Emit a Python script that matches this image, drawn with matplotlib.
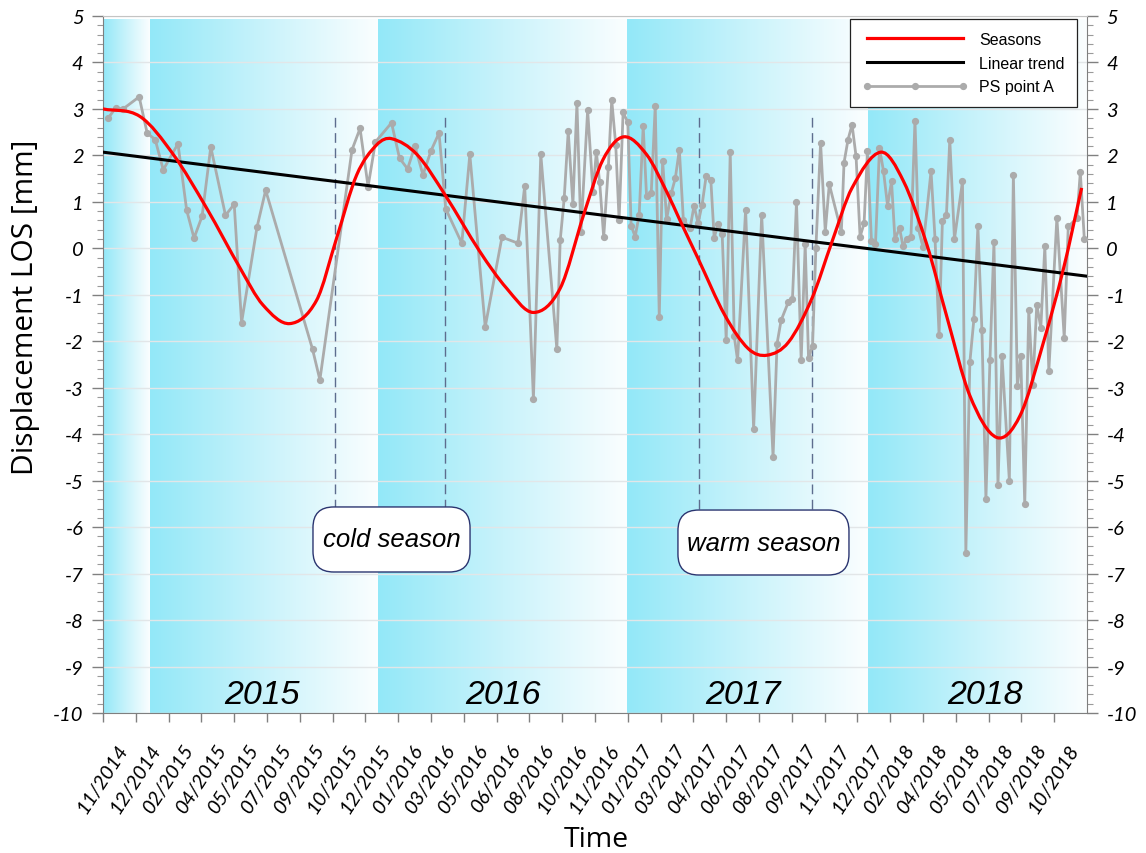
import matplotlib
matplotlib.use("Agg")
import matplotlib.pyplot as plt
import numpy as np
from matplotlib.colors import LinearSegmentedColormap
from matplotlib.patches import FancyBboxPatch, PathPatch
from matplotlib.path import Path
from matplotlib.lines import Line2D

plt.rcParams['axes.unicode_minus'] = False

# x axis: days counted from the first tick (11/2014), ticks every 49 days
tick_step = 49
tick_labels = ['11/2014', '12/2014', '02/2015', '04/2015', '05/2015', '07/2015',
               '09/2015', '10/2015', '12/2015', '01/2016', '03/2016', '05/2016',
               '06/2016', '08/2016', '10/2016', '11/2016', '01/2017', '03/2017',
               '04/2017', '06/2017', '08/2017', '09/2017', '11/2017', '12/2017',
               '02/2018', '04/2018', '05/2018', '07/2018', '09/2018', '10/2018']

# PS point A (days, displacement mm)
ps_days = [8, 19, 30, 54, 66, 78, 90, 112, 125, 136,
           148, 161, 183, 196, 207, 230, 243, 313, 324, 372,
           384, 396, 407, 431, 443, 455, 466, 478, 490, 502,
           512, 536, 548, 571, 596, 620, 630, 643, 654, 678,
           683, 689, 695, 702, 708, 714, 724, 732, 737, 742,
           748, 755, 760, 766, 771, 777, 784, 789, 795, 801,
           807, 812, 819, 825, 831, 836, 842, 849, 855, 861,
           867, 877, 883, 889, 895, 901, 908, 913, 919, 925,
           931, 937, 943, 948, 960, 972, 984, 1001, 1007, 1013,
           1024, 1030, 1036, 1043, 1049, 1054, 1060, 1065, 1072, 1079,
           1085, 1103, 1107, 1113, 1119, 1125, 1131, 1137, 1142, 1148,
           1154, 1160, 1166, 1172, 1178, 1183, 1190, 1195, 1201, 1207,
           1213, 1218, 1225, 1237, 1243, 1249, 1254, 1260, 1265, 1272,
           1284, 1289, 1295, 1301, 1307, 1313, 1319, 1325, 1331, 1337,
           1343, 1354, 1360, 1366, 1371, 1377, 1383, 1389, 1395, 1401,
           1407, 1413, 1425, 1436, 1442, 1455, 1460, 1466]
ps_disp = [2.81, 3.02, 3.00, 3.26, 2.48, 2.34, 1.69, 2.25, 0.82, 0.22,
           0.69, 2.18, 0.71, 0.95, -1.60, 0.45, 1.25, -2.17, -2.83, 2.12,
           2.58, 1.33, 2.29, 2.70, 1.94, 1.71, 2.20, 1.58, 2.10, 2.48,
           0.85, 0.11, 2.02, -1.69, 0.24, 0.11, 1.34, -3.24, 2.03, -2.17,
           0.17, 1.08, 2.52, 0.95, 3.12, 0.35, 2.97, 1.21, 2.07, 1.42,
           0.24, 1.76, 3.19, 2.22, 0.61, 2.93, 2.71, 0.49, 0.25, 0.72,
           2.63, 1.12, 1.19, 3.07, -1.48, 1.89, 0.63, 1.19, 1.51, 2.12,
           0.61, 0.43, 0.92, 0.54, 0.94, 1.55, 1.48, 0.23, 0.52, 0.30,
           -1.98, 2.07, -1.89, -2.41, 0.83, -3.89, 0.72, -4.49, -2.05, -1.55,
           -1.15, -1.08, 0.99, -2.41, 0.09, -2.36, -2.10, 0.01, 2.27, 0.36,
           1.38, 0.35, 1.84, 2.34, 2.66, 1.98, 0.25, 0.54, 2.09, 0.16,
           0.09, 2.16, 1.66, 0.92, 1.44, 0.20, 0.43, 0.06, 0.20, 0.25,
           2.75, 0.43, 0.02, 1.66, 0.20, -1.86, 0.59, 0.71, 2.34, 0.20,
           1.44, -6.55, -2.45, -1.53, 0.47, -1.76, -5.40, -2.41, 0.13, -5.10,
           -2.32, -5.00, 1.58, -2.97, -2.32, -5.51, -1.33, -2.95, -1.21, -1.71,
           0.04, -2.64, 0.66, -1.93, 0.47, 0.65, 1.64, 0.20]

# seasonal model curve, read at points along the smooth line
season_days = [0, 55, 105, 155, 205, 239, 279, 319, 349, 379,
               409, 431, 469, 511, 563, 603, 643, 683, 718, 747,
               778, 812, 842, 862, 889, 929, 964, 992, 1024, 1059,
               1089, 1119, 1162, 1196, 1231, 1260, 1295, 1335, 1370,
               1405, 1435, 1462]
season_disp = [3.00, 2.84, 2.02, 0.86, -0.43, -1.22, -1.62, -1.12, 0.22, 1.58,
               2.23, 2.36, 2.02, 1.15, -0.07, -0.86, -1.38, -0.86, 0.72, 1.91,
               2.40, 2.02, 1.22, 0.60, -0.22, -1.44, -2.16, -2.30, -2.02, -1.08,
               0.14, 1.30, 2.07, 1.44, 0.07, -1.44, -3.17, -4.07, -3.60,
               -2.02, -0.43, 1.30]

trend_days = [0, 1470]
trend_disp = [2.07, -0.60]

year_labels = ['2015', '2016', '2017', '2018']
year_centers = [238, 598, 956, 1318]
band_edges = [0, 70, 411, 783, 1143, 1470]
cold_lines = [347, 511]
warm_lines = [890, 1059]


def smooth_curve(x, y):
    # cubic Hermite through the read points (finite-difference slopes),
    # written as Bezier segments so matplotlib draws a smooth path
    x = np.asarray(x, float)
    y = np.asarray(y, float)
    m = np.empty_like(y)
    m[1:-1] = (y[2:] - y[:-2]) / (x[2:] - x[:-2])
    m[0] = (y[1] - y[0]) / (x[1] - x[0])
    m[-1] = (y[-1] - y[-2]) / (x[-1] - x[-2])
    verts = [(x[0], y[0])]
    codes = [Path.MOVETO]
    for i in range(len(x) - 1):
        h = x[i + 1] - x[i]
        verts += [(x[i] + h / 3, y[i] + m[i] * h / 3),
                  (x[i + 1] - h / 3, y[i + 1] - m[i + 1] * h / 3),
                  (x[i + 1], y[i + 1])]
        codes += [Path.CURVE4] * 3
    return Path(verts, codes)


fig = plt.figure(figsize=(11.46, 8.54), dpi=100)
ax = fig.add_axes([103 / 1146, 1 - 714 / 854, 984 / 1146, 697 / 854])

# background year bands, cyan fading to white
band_cmap = LinearSegmentedColormap.from_list('band', ['#93e8f8', '#c9f3fb', '#fbfeff'])
grad = np.linspace(0, 1, 256).reshape(1, -1)
for x0, x1 in zip(band_edges[:-1], band_edges[1:]):
    ax.imshow(grad, extent=[x0, x1, -10, 4.92], aspect='auto', cmap=band_cmap,
              zorder=0, interpolation='bilinear')

ax.grid(axis='y', color='#e2e6e8', lw=1.0, zorder=1)

for xv in cold_lines + warm_lines:
    ax.plot([xv, xv], [-5.62, 2.92], color='#5d6d8e', lw=1.0, dashes=(7, 4), zorder=2)

ax.plot(ps_days, ps_disp, color='#ababab', lw=2.0, marker='o', ms=4.2, zorder=3)
ax.plot(trend_days, trend_disp, color='black', lw=2.2, zorder=4)
ax.add_patch(PathPatch(smooth_curve(season_days, season_disp), fill=False,
                       ec='#ff0000', lw=2.3, zorder=5))

ax.set_xlim(0, 1470)
ax.set_ylim(-10, 5)

# year labels
for lab, xc in zip(year_labels, year_centers):
    ax.text(xc, -9.78, lab, ha='center', va='baseline', fontsize=24.5,
            style='italic', family='Liberation Sans', zorder=6)

# season boxes
ratio = 984 / 697
for (bx0, bx1, by0, by1), txt in [((0.2134, 0.373, 0.2023, 0.2956), 'cold season'),
                                  ((0.5843, 0.7581, 0.198, 0.2912), 'warm season')]:
    box = FancyBboxPatch((bx0, by0), bx1 - bx0, by1 - by0,
                         boxstyle='round,pad=0,rounding_size=0.021',
                         mutation_aspect=ratio, transform=ax.transAxes,
                         fc='white', ec='#2b3570', lw=1.0, zorder=7)
    ax.add_patch(box)
    ax.text((bx0 + bx1) / 2, (by0 + by1) / 2, txt, transform=ax.transAxes,
            ha='center', va='center', fontsize=18.5, style='italic',
            family='Liberation Sans', zorder=8)

# axes, ticks
ax.set_yticks(np.arange(-10, 6, 1))
ax.set_yticks(np.arange(-10, 5.01, 0.2), minor=True)
ax.set_yticklabels([str(v) for v in range(-10, 6)])
ax.tick_params(axis='y', which='major', direction='out', length=8, width=1,
               color='#808080', left=True, right=True, labelleft=True,
               labelright=True, pad=6, labelsize=14.5)
ax.tick_params(axis='y', which='minor', direction='out', length=4, width=0.8,
               color='#9a9a9a', left=True, right=True)
for lab in ax.get_yticklabels():
    lab.set_family('Lato')
    lab.set_style('italic')

ax.set_xticks(np.arange(len(tick_labels)) * tick_step)
ax.set_xticklabels(tick_labels, rotation=57, ha='center', va='center',
                   rotation_mode='anchor', family='Lato', style='italic',
                   fontsize=14.5)
ax.tick_params(axis='x', which='major', direction='out', length=6.5, width=1,
               color='#808080', pad=40)

for side in ['left', 'right', 'bottom']:
    ax.spines[side].set_color('#7f7f7f')
ax.spines['top'].set_color('#c4c4c4')

fig.text(26 / 1146, 1 - 307 / 854, 'Displacement LOS [mm]', rotation=90,
         ha='center', va='center', fontsize=21.5, family='Open Sans')
fig.text(596 / 1146, 1 - 840 / 854, 'Time', ha='center', va='center',
         fontsize=20.5, family='Open Sans')

handles = [Line2D([], [], color='#ff0000', lw=2.3),
           Line2D([], [], color='black', lw=2.2),
           Line2D([], [], color='#ababab', lw=2.0, marker='o', ms=4.2)]
leg = ax.legend(handles, ['Seasons', 'Linear trend', 'PS point A'],
                loc='upper right', bbox_to_anchor=(0.99, 0.9957),
                borderaxespad=0, fancybox=False, framealpha=1,
                edgecolor='#222222', handlelength=6.6, handletextpad=0.7,
                borderpad=0.8, labelspacing=0.55, numpoints=3,
                prop={'family': 'Liberation Sans', 'size': 11.5})
leg.get_frame().set_linewidth(0.9)
leg.set_zorder(10)

fig.savefig('out.png', dpi=100)
